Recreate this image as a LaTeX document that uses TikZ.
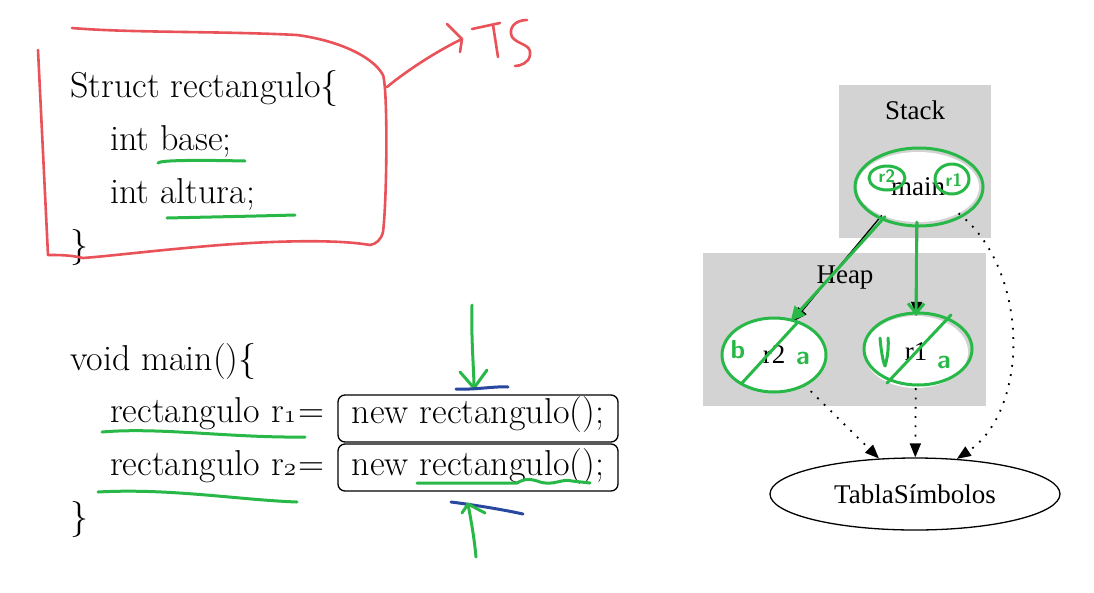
\documentclass[tikz,border=0pt]{standalone}
\usepackage{fontspec}
\newfontfamily\gvfont{Liberation Serif}
\usetikzlibrary{arrows.meta,shapes.geometric}
\newcommand\osn[1]{{\fontencoding{OML}\fontfamily{lmm}\fontseries{m}\fontshape{it}\selectfont #1}}
\newcommand\codefont{\fontsize{36}{42}\selectfont}
\definecolor{penred}{RGB}{232,82,88}
\definecolor{pengreen}{RGB}{40,184,72}
\definecolor{penblue}{RGB}{40,72,160}
\definecolor{gvgrey}{RGB}{211,211,211}
\begin{document}
\begin{tikzpicture}[x=1pt,y=-1pt,
  code/.style={anchor=base west, inner sep=0pt, font=\codefont},
  newbox/.style={draw, line width=1.3pt, rounded corners=7pt, anchor=base,
    minimum width=280pt, inner xsep=0pt, inner ysep=4pt, text height=24pt,
    text depth=15pt, font=\codefont},
  gvbox/.style={rectangle, fill=gvgrey, draw=none, inner sep=0pt},
  gvlabel/.style={inner sep=0pt, font=\gvfont\fontsize{27}{30}\selectfont},
  gvnode/.style={ellipse, fill=white, inner sep=0pt, font=\gvfont\fontsize{27}{30}\selectfont},
  gvedge/.style={line width=1.3pt, -{Triangle[length=14pt,width=11pt]}},
  gvdot/.style={line width=1.8pt, dash pattern=on 1.8pt off 7.5pt, -{Triangle[length=14pt,width=11pt]}},
  redpen/.style={draw=penred, line width=2.6pt, line cap=round, line join=round},
  greenpen/.style={draw=pengreen, line width=3pt, line cap=round, line join=round},
  bluepen/.style={draw=penblue, line width=3pt, line cap=round, line join=round},
  greenhand/.style={text=pengreen, inner sep=0pt, font=\sffamily\bfseries\fontsize{18}{18}\selectfont}
]
\useasboundingbox[fill=white] (0,0) rectangle (1094,592);

% ---------- code ----------
\node[code] (s1) at (70,97) {Struct rectangulo\{};
\node[code] (s2) at (110,150) {int base;};
\node[code] (s3) at (110,203) {int altura;};
\node[code] (s4) at (70,256) {\}};
\node[code] (m1) at (70,370) {void main()\{};
\node[code] (m2) at (110,422) {rectangulo r\osn{1}\hspace{-8pt} =};
\node[code] (m3) at (110,475) {rectangulo r\osn{2}\hspace{-8pt} =};
\node[code] (m4) at (70,528) {\}};
\node[newbox] (n1) at (478,423) {new rectangulo();};
\node[newbox, text height=27pt, text depth=12pt] (n2) at (478,475) {new rectangulo();};

% ---------- red annotation ----------
\draw[redpen] (72,28) .. controls (130,33) and (220,31) .. (297,35)
  .. controls (335,40) and (372,55) .. (383,75)
  .. controls (388,90) and (387,200) .. (383,232)
  .. controls (381,240) and (376,244) .. (370,245)
  .. controls (330,238) and (250,242) .. (197,247)
  .. controls (150,251) and (110,256) .. (83,258)
  .. controls (70,255) and (60,255) .. (48,255);
\draw[redpen] (38,50) -- (48,255);
\coordinate (tsA) at (387,87);
\coordinate (tsB) at (462,39);
\draw[redpen] (tsA) .. controls (405,72) and (435,52) .. (tsB);
\draw[redpen] (447,24) -- (tsB) -- (460,52);
\draw[redpen] (472,29) -- (500,23);
\draw[redpen] (493,25) -- (498,57);
\draw[redpen] (527,20) .. controls (515,20) and (508,28) .. (512,37)
  .. controls (518,45) and (532,44) .. (530,55)
  .. controls (529,63) and (520,66) .. (515,66);

% ---------- green / blue marks on the code ----------
\draw[greenpen] (158,163) .. controls (160,160) and (200,160) .. (245,161);
\draw[greenpen] (167,218) .. controls (210,217) and (260,216) .. (295,215);
\draw[greenpen] (102,432) .. controls (160,427) and (230,438) .. (305,437);
\draw[greenpen] (98,492) .. controls (170,488) and (240,500) .. (297,502);
\draw[greenpen] (417,483) -- (517,483) .. controls (525,478) and (532,479) .. (540,482)
  .. controls (555,486) and (562,478) .. (572,481) -- (590,483);
\coordinate (dnA) at (472,305);
\coordinate (dnB) at (474,388);
\draw[greenpen] (dnA) .. controls (471,340) and (474,370) .. (dnB);
\draw[greenpen] (460,372) -- (dnB) -- (487,370);
\draw[bluepen] (456,389) .. controls (475,390) and (495,386) .. (508,387);
\draw[bluepen] (451,502) .. controls (475,505) and (505,510) .. (523,514);
\coordinate (upA) at (476,557);
\coordinate (upB) at (468,504);
\draw[greenpen] (upA) .. controls (474,535) and (470,515) .. (upB);
\draw[greenpen] (462,513) -- (upB) -- (485,513);

% ---------- graph ----------
\node[gvbox, minimum width=152pt, minimum height=153pt] (stack) at (915,161.5) {};
\node[gvlabel] (stacklbl) at (915,110) {Stack};
\node[gvbox, minimum width=283pt, minimum height=153pt] (heap) at (844.5,329.5) {};
\node[gvlabel] (heaplbl) at (845,278) {Heap};
\node[gvnode, minimum width=122pt, minimum height=70pt] (main) at (918,187) {main};
\node[gvnode, minimum width=104pt, minimum height=72pt] (r2) at (774,355) {r2};
\node[gvnode, minimum width=104pt, minimum height=72pt] (r1) at (916,352) {r1};
\node[ellipse, draw, line width=1.3pt, inner sep=0pt, minimum width=290pt, minimum height=72pt,
  font=\gvfont\fontsize{27}{30}\selectfont] (tabla) at (915,494) {TablaSímbolos};

\draw[gvedge] (main.218) -- (r2.60);
\draw[gvedge] (main) -- (r1);
\draw[gvdot] (r2) -- (tabla);
\draw[gvdot] (r1) -- (tabla);
\draw[gvdot] (main.-33) .. controls (1030,270) and (1030,410) .. (tabla.40);

% ---------- green marks on the graph ----------
\draw[greenpen] (919,187) ellipse [x radius=64, y radius=39];
\draw[greenpen] (774,355) ellipse [x radius=52, y radius=37];
\draw[greenpen] (918,349) ellipse [x radius=54, y radius=36];
\draw[greenpen] (887,178) ellipse [x radius=18, y radius=12];
\draw[greenpen] (952,179) ellipse [x radius=17, y radius=15];
\node[greenhand] (hr2) at (887,176) {r2};
\node[greenhand] (hr1) at (954,180) {r1};
\draw[greenpen] (797,323) -- (742,383);
\draw[greenpen] (951,315) -- (887,383);
\node[greenhand, font=\sffamily\bfseries\fontsize{26}{26}\selectfont] (hb) at (738,350) {b};
\node[greenhand, font=\sffamily\bfseries\fontsize{26}{26}\selectfont] (ha2) at (803,358) {a};
\draw[greenpen] (880,338) .. controls (881,350) and (883,362) .. (885,366) .. controls (887,360) and (889,348) .. (888,338);
\node[greenhand, font=\sffamily\bfseries\fontsize{26}{26}\selectfont] (ha1) at (944,362) {a};
\draw[greenpen, -{Triangle[length=14pt,width=14pt]}] (main.222) -- (r2.64);
\draw[greenpen, -{Straight Barb[length=10pt,width=16pt]}] (main.268) -- (r1.north);
\end{tikzpicture}
\end{document}
